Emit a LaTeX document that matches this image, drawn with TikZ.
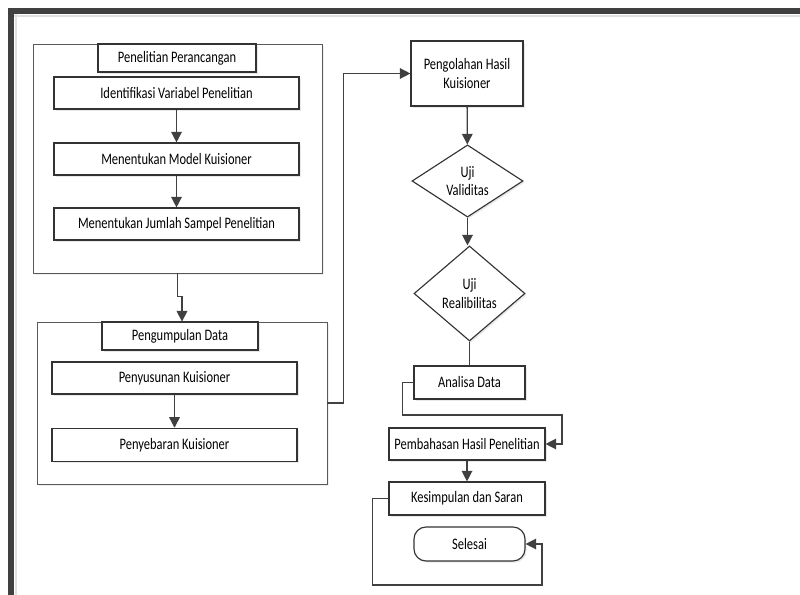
\documentclass[tikz,border=0pt]{standalone}
\usepackage{fontspec}
\setmainfont[FakeStretch=0.78]{Carlito}
\usetikzlibrary{shapes.geometric,arrows.meta,shadows}

\begin{document}
\begin{tikzpicture}[x=0.75pt,y=-0.75pt,
    box/.style={draw=black!80,line width=0.85pt,fill=white,inner sep=1pt,
      align=center,font=\fontsize{12}{14}\selectfont,
      drop shadow={opacity=0.18,shadow xshift=1.2pt,shadow yshift=-1.2pt}},
    panel/.style={draw=black!65,line width=0.6pt,fill=white,
      drop shadow={opacity=0.12,shadow xshift=1.2pt,shadow yshift=-1.2pt}},
    decide/.style={box,shape=diamond,inner sep=0pt},
    link/.style={draw=black!75,line width=1pt},
    arr/.style={link,-{Triangle[width=8pt,length=8pt]}}]
      \useasboundingbox (0,0) rectangle (800,595) ;
      \fill[white] (0,0) rectangle (800,595) ;
      % frame
      \draw[black!12,line width=2pt] (14,16)--(800,16) ;
      \draw[black!12,line width=2pt] (16,14)--(16,595) ;
      \draw[black!75,line width=4.5pt] (8,11)--(800,11) ;
      \draw[black!75,line width=4.5pt] (11,8)--(11,595) ;
      % left panels
      \node[panel,minimum width=216.75pt,minimum height=171.75pt] (perancangan) at (177.5,158.5) {} ;
      \node[box,minimum width=118.5pt,minimum height=21pt] (judul1) at (177,58) {Penelitian Perancangan} ;
      \node[box,minimum width=183.75pt,minimum height=24pt] (identifikasi) at (176.5,93) {Identifikasi Variabel Penelitian} ;
      \node[box,minimum width=183.75pt,minimum height=24pt] (model) at (176.5,159) {Menentukan Model Kuisioner} ;
      \node[box,minimum width=183.75pt,minimum height=24pt] (sampel) at (176.5,224) {Menentukan Jumlah Sampel Penelitian} ;
      \node[panel,minimum width=217.5pt,minimum height=121.5pt] (pengumpulan) at (182,403) {} ;
      \node[box,minimum width=117pt,minimum height=21pt] (judul2) at (180,336) {Pengumpulan Data} ;
      \node[box,minimum width=183.75pt,minimum height=24pt] (penyusunan) at (174.5,378) {Penyusunan Kuisioner} ;
      \node[box,minimum width=183.75pt,minimum height=25pt] (penyebaran) at (174.5,445) {Penyebaran Kuisioner} ;
      % right column
      \node[box,minimum width=84pt,minimum height=48.75pt] (pengolahan) at (467,73.5) {Pengolahan Hasil\\Kuisioner} ;
      \node[decide,minimum width=83.25pt,minimum height=48pt] (validitas) at (467.5,181) {Uji\\Validitas} ;
      \node[decide,minimum width=83.25pt,minimum height=71.25pt] (realibilitas) at (469.5,293.5) {Uji\\Realibilitas} ;
      \node[box,minimum width=83.25pt,minimum height=24.75pt] (analisa) at (469.5,382.5) {Analisa Data} ;
      \node[box,minimum width=117pt,minimum height=24pt] (pembahasan) at (467,444) {Pembahasan Hasil Penelitian} ;
      \node[box,minimum width=117pt,minimum height=24.75pt] (kesimpulan) at (467,498.5) {Kesimpulan dan Saran} ;
      \node[box,rounded corners=9pt,minimum width=83.25pt,minimum height=25.5pt] (selesai) at (469.5,544) {Selesai} ;
      \coordinate (belok1) at (562,415) ;
      \coordinate (belok2) at (542,585) ;
      % connectors
      \draw[arr] (identifikasi) -- (model) ;
      \draw[arr] (model) -- (sampel) ;
      \draw[arr] (penyusunan) -- (penyebaran) ;
      \draw[arr] (perancangan.south) -- ++(0,23) -| (pengumpulan.north) ;
      \draw[arr] (pengumpulan.east) -- ++(16,0) |- (pengolahan.west) ;
      \draw[arr] (pengolahan) -- (validitas) ;
      \draw[arr] (validitas.south) -- (validitas.south |- realibilitas.north) ;
      \draw[link] (realibilitas.south) -- (analisa.north) ;
      \draw[arr] (analisa.west) -- ++(-11,0) |- (belok1) |- (pembahasan.east) ;
      \draw[arr] (pembahasan) -- (kesimpulan) ;
      \draw[arr] (kesimpulan.west) -- ++(-16,0) |- (belok2) |- (selesai.east) ;
    \end{tikzpicture}
\end{document}
